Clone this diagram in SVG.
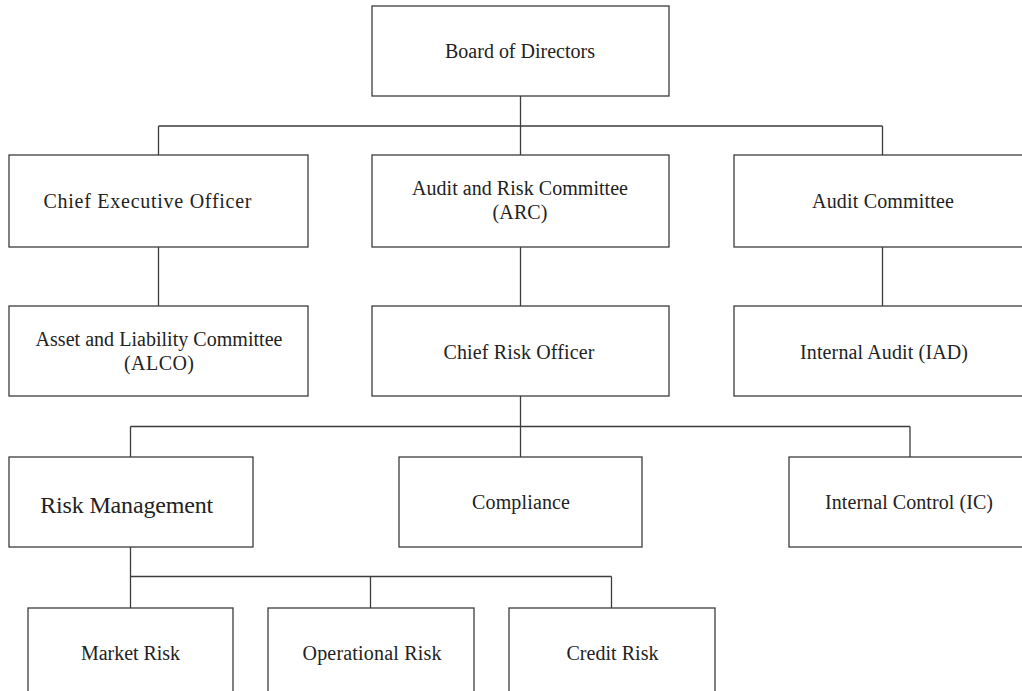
<svg xmlns="http://www.w3.org/2000/svg" width="1022" height="691" viewBox="0 0 1022 691">
<style>
.box{fill:#fff;stroke:#3c3c3c;stroke-width:1.3}
.ln{fill:none;stroke:#3c3c3c;stroke-width:1.3}
text{font-family:"Liberation Serif","Times New Roman",serif;font-size:20px;fill:#222;text-anchor:middle}
.big{font-size:24px}
</style>
<rect width="1022" height="691" fill="#fff"/>
<g id="connectors">
<path class="ln" d="M520.5 96V155M158.5 126H882.5M158.5 126V155M882.5 126V155"/>
<path class="ln" d="M158.5 247V306M520.5 247V306M882.5 247V306"/>
<path class="ln" d="M520.5 396V457M130.5 426.5H910M130.5 426.5V457M910 426.5V457"/>
<path class="ln" d="M130.5 547V577M130.5 576.5H611.5M130.5 577V608M370.5 576.5V608M611.5 576.5V608"/>
</g>
<g id="board"><rect class="box" x="372" y="6" width="297" height="90"/><text x="520" y="58" textLength="150">Board of Directors</text></g>
<g id="ceo"><rect class="box" x="9" y="155" width="299" height="92"/><text x="147.5" y="208" textLength="208">Chief Executive Officer</text></g>
<g id="arc"><rect class="box" x="372" y="155" width="297" height="92"/><text x="520" y="195" textLength="216">Audit and Risk Committee</text><text x="520" y="219" textLength="55">(ARC)</text></g>
<g id="audit-committee"><rect class="box" x="734" y="155" width="300" height="92"/><text x="883" y="208" textLength="142">Audit Committee</text></g>
<g id="alco"><rect class="box" x="9" y="306" width="299" height="90"/><text x="159" y="345.5" textLength="247">Asset and Liability Committee</text><text x="159" y="369.5" textLength="70">(ALCO)</text></g>
<g id="cro"><rect class="box" x="372" y="306" width="297" height="90"/><text x="519" y="358.5" textLength="151">Chief Risk Officer</text></g>
<g id="iad"><rect class="box" x="734" y="306" width="300" height="90"/><text x="884" y="358.5" textLength="168">Internal Audit (IAD)</text></g>
<g id="risk-management"><rect class="box" x="9" y="457" width="244" height="90"/><text class="big" x="126.7" y="512.5" textLength="173">Risk Management</text></g>
<g id="compliance"><rect class="box" x="399" y="457" width="243" height="90"/><text x="521" y="508.5" textLength="98">Compliance</text></g>
<g id="internal-control"><rect class="box" x="789" y="457" width="250" height="90"/><text x="909" y="509" textLength="168">Internal Control (IC)</text></g>
<g id="market-risk"><rect class="box" x="28" y="608" width="205" height="100"/><text x="130.5" y="660" textLength="99">Market Risk</text></g>
<g id="operational-risk"><rect class="box" x="268" y="608" width="206" height="100"/><text x="372" y="660" textLength="139">Operational Risk</text></g>
<g id="credit-risk"><rect class="box" x="509" y="608" width="206" height="100"/><text x="612.5" y="660" textLength="92">Credit Risk</text></g>
</svg>
